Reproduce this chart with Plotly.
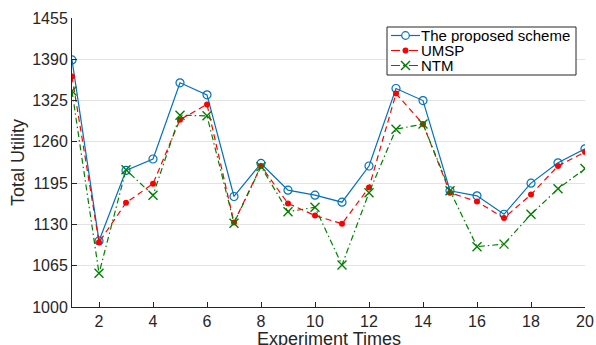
import plotly.graph_objects as go

experiments = list(range(1, 21))
proposed = [1389, 1104, 1215, 1233, 1353, 1334, 1174, 1226, 1184, 1176,
            1165, 1222, 1344, 1325, 1183, 1175, 1146, 1195, 1227, 1249]
umsp = [1363, 1102, 1164, 1194, 1295, 1319, 1133, 1222, 1163, 1144,
        1131, 1188, 1336, 1288, 1180, 1166, 1140, 1177, 1222, 1244]
ntm = [1340, 1053, 1216, 1176, 1302, 1301, 1132, 1221, 1150, 1157,
       1066, 1180, 1280, 1288, 1183, 1095, 1099, 1146, 1186, 1218]
y_ticks = [1000, 1065, 1130, 1195, 1260, 1325, 1390, 1455]
x_ticks = [2, 4, 6, 8, 10, 12, 14, 16, 18, 20]
series_names = ["The proposed scheme", "UMSP", "NTM"]
x_title = "Experiment Times"
y_title = "Total Utility"

FONT = "Liberation Sans, Arial, Helvetica, sans-serif"
DARK = "#262626"
BLUE, RED, GREEN = "#0072BD", "#FF0000", "#008000"

W, H = 596, 345
ML, MR, MT, MB = 72, 11, 18, 38
PW, PH = W - ML - MR, H - MT - MB

fig = go.Figure()
fig.add_trace(go.Scatter(
    x=experiments, y=proposed, name=series_names[0], mode="lines+markers",
    line=dict(color=BLUE, width=1.2),
    marker=dict(symbol="circle-open", size=8, color=BLUE, line=dict(width=1.2)),
))
fig.add_trace(go.Scatter(
    x=experiments, y=umsp, name=series_names[1], mode="lines+markers",
    line=dict(color=RED, width=1.2, dash="6px,4px"),
    marker=dict(symbol="circle", size=6, color=RED),
))
fig.add_trace(go.Scatter(
    x=experiments, y=ntm, name=series_names[2], mode="lines+markers",
    line=dict(color=GREEN, width=1.2, dash="6px,3px,1.5px,3px"),
    marker=dict(symbol="x-thin-open", size=9, color=GREEN, line=dict(width=1.4, color=GREEN)),
))

def px_x(p):
    return (p - ML) / PW

def px_y(p):
    return (H - MB - p) / PH

shapes = []
annotations = []
# --- manual legend (MATLAB style, compact) ---
shapes.append(dict(type="rect", xref="paper", yref="paper",
                   x0=px_x(387), x1=px_x(576), y0=px_y(75), y1=px_y(27),
                   line=dict(color=DARK, width=1), fillcolor="white", layer="above"))
rows = [35.5, 50.5, 65.5]
styles = [(BLUE, "solid"), (RED, "dash"), (GREEN, "dashdot")]
for name, ry, (col, dash) in zip(series_names, rows, styles):
    shapes.append(dict(type="line", xref="paper", yref="paper",
                       x0=px_x(391), x1=px_x(420), y0=px_y(ry), y1=px_y(ry),
                       line=dict(color=col, width=1.2, dash=dash), layer="above"))
    annotations.append(dict(text=name, xref="paper", yref="paper",
                            x=px_x(420), y=px_y(ry), xanchor="left", yanchor="middle",
                            height=15, valign="middle", borderpad=0,
                            showarrow=False, font=dict(size=15, color="black", family=FONT)))
mx = px_x(405.5)
shapes.append(dict(type="circle", xref="paper", yref="paper", xsizemode="pixel", ysizemode="pixel",
                   xanchor=mx, yanchor=px_y(rows[0]), x0=-3.8, x1=3.8, y0=-3.8, y1=3.8,
                   line=dict(color=BLUE, width=1.2), fillcolor="white", layer="above"))
shapes.append(dict(type="circle", xref="paper", yref="paper", xsizemode="pixel", ysizemode="pixel",
                   xanchor=mx, yanchor=px_y(rows[1]), x0=-3, x1=3, y0=-3, y1=3,
                   line=dict(color=RED, width=0), fillcolor=RED, layer="above"))
for a, b in [(-4.5, 4.5), (4.5, -4.5)]:
    shapes.append(dict(type="line", xref="paper", yref="paper", xsizemode="pixel", ysizemode="pixel",
                       xanchor=mx, yanchor=px_y(rows[2]), x0=-4.5, x1=4.5, y0=a, y1=b,
                       line=dict(color=GREEN, width=1.4), layer="above"))

# --- axis titles as annotations for exact placement ---
annotations.append(dict(text=x_title, xref="paper", yref="paper",
                        x=0.5, y=px_y(326.5), xanchor="center", yanchor="top",
                        showarrow=False, font=dict(size=18, color=DARK, family=FONT)))
annotations.append(dict(text=y_title, xref="paper", yref="paper",
                        x=px_x(17.5), y=0.5, xanchor="center", yanchor="middle", textangle=-90,
                        showarrow=False, font=dict(size=18, color=DARK, family=FONT)))

fig.update_layout(
    width=W, height=H,
    margin=dict(l=ML, r=MR, t=MT, b=MB),
    paper_bgcolor="white", plot_bgcolor="white",
    font=dict(family=FONT, size=16, color=DARK),
    showlegend=False,
    shapes=shapes, annotations=annotations,
)
fig.update_xaxes(
    range=[1, 20], tickvals=x_ticks, ticks="inside", ticklen=5, tickcolor=DARK,
    showline=True, linecolor=DARK, linewidth=1, mirror=False,
    showgrid=False, zeroline=False, automargin=False,
    tickfont=dict(size=16, color=DARK),
)
fig.update_yaxes(
    range=[1000, 1455], tickvals=y_ticks, ticks="inside", ticklen=5, tickcolor=DARK,
    showline=True, linecolor=DARK, linewidth=1, mirror=False,
    showgrid=True, gridcolor="#E3E3E3", gridwidth=1, zeroline=False, automargin=False,
    tickfont=dict(size=16, color=DARK),
)

fig.write_html("out.html")
